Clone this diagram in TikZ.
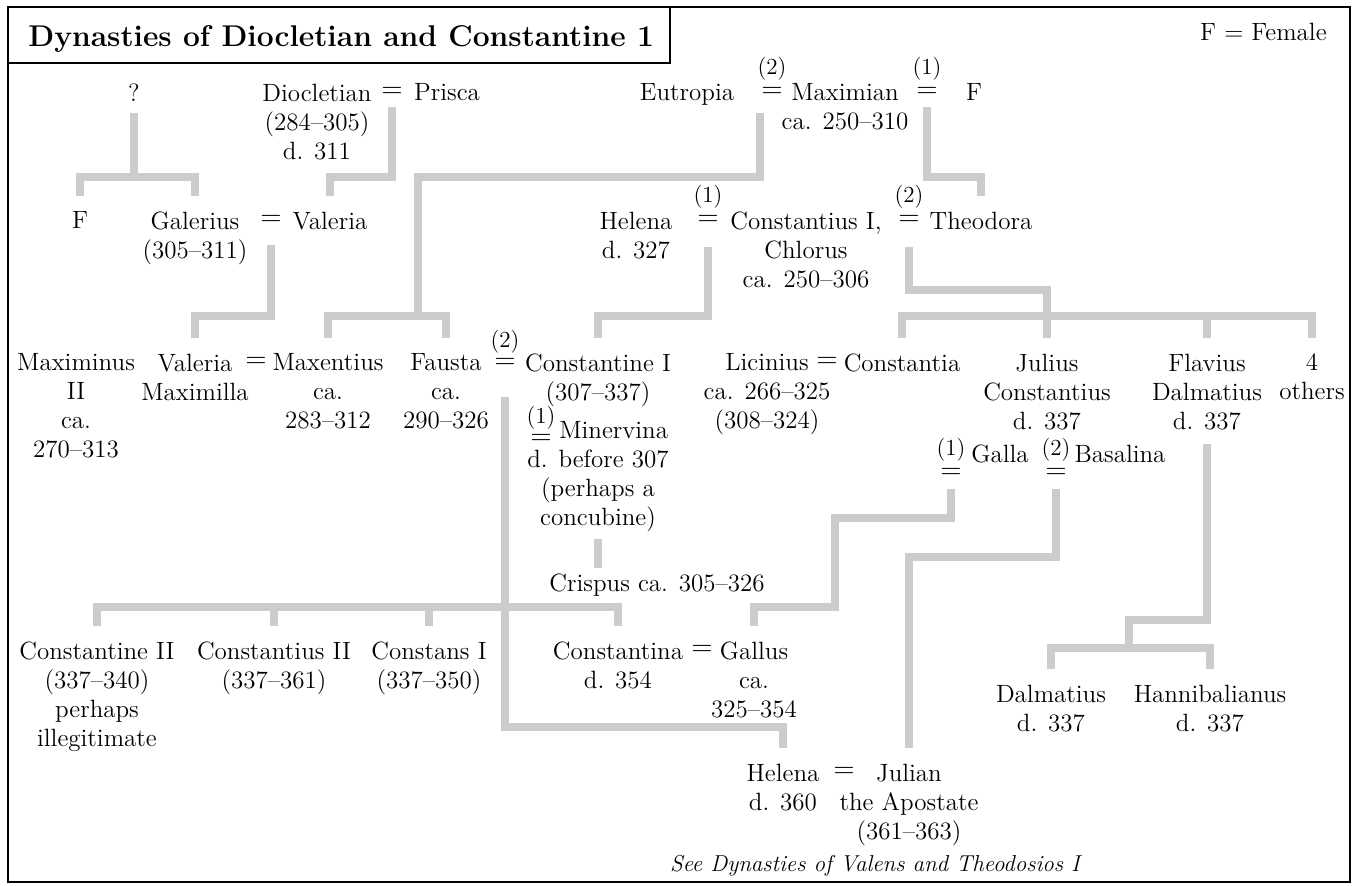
\documentclass[tikz,border=0pt]{standalone}
\usepackage{xcolor}
\usepackage{tikz}

\definecolor{kingray}{gray}{0.8}
\newcommand{\bodyfont}{\fontsize{12.5}{14.5}\selectfont}
\newcommand{\markfont}{\fontsize{11.5}{12}\selectfont}

\begin{document}
\begin{tikzpicture}[
  x=0.5pt, y=-0.5pt,
  person/.style={align=center, inner sep=0pt, anchor=north, font=\bodyfont},
  wed/.style={inner sep=0pt, font=\fontsize{14}{14}\selectfont},
  marno/.style={inner sep=0pt, font=\markfont},
  kin/.style={draw=kingray, line width=3.8pt},
  tochild/.style={shorten >=7.5pt},
  fromtop/.style={shorten <=#1}
]
\useasboundingbox (0,0) rectangle (1357,886);

% frame and title
\draw[line width=0.9pt] (8,7) rectangle (1350,882);
\draw[line width=0.9pt] (8,7) rectangle (670,63);
\node[anchor=base west, inner sep=0pt, font=\fontsize{15}{17}\selectfont\bfseries] (title) at (28,47) {Dynasties of Diocletian and Constantine 1};
\node[anchor=base east, inner sep=0pt, font=\bodyfont] (key) at (1327,41) {F = Female};

% first generation
\node[person] (q) at (134,83.5) {?};
\node[person] (dio) at (317,83.5) {Diocletian\\(284--305)\\d. 311};
\node[wed] (eqDP) at (392,92) {=};
\node[person] (pri) at (447,83.5) {Prisca};
\node[person] (eut) at (687,83.5) {Eutropia};
\node[marno] (m2EM) at (772,69) {(2)};
\node[wed] (eqEM) at (772,92) {=};
\node[person] (max) at (845,83.5) {Maximian\\ca. 250--310};
\node[marno] (m1MF) at (927,69) {(1)};
\node[wed] (eqMF) at (927,92) {=};
\node[person] (fMF) at (974,83.5) {F};

% second generation
\node[person] (fem) at (80,211.5) {F};
\node[person] (gal) at (195,211.5) {Galerius\\(305--311)};
\node[wed] (eqGV) at (271,220) {=};
\node[person] (val) at (330,211.5) {Valeria};
\node[person] (hel) at (636,211.5) {Helena\\d. 327};
\node[marno] (m1HC) at (708,197) {(1)};
\node[wed] (eqHC) at (708,220) {=};
\node[person] (cst) at (806,211.5) {Constantius I,\\Chlorus\\ca. 250--306};
\node[marno] (m2CT) at (909,197) {(2)};
\node[wed] (eqCT) at (909,220) {=};
\node[person] (the) at (981,211.5) {Theodora};

% third generation
\node[person] (mxm) at (76,353.5) {Maximinus\\II\\ca.\\270--313};
\node[person] (vm) at (195,353.5) {Valeria\\Maximilla};
\node[wed] (eqVM) at (256,362) {=};
\node[person] (mxt) at (328,353.5) {Maxentius\\ca.\\283--312};
\node[person] (fau) at (446,353.5) {Fausta\\ca.\\290--326};
\node[marno] (m2FC) at (505,342) {(2)};
\node[wed] (eqFC) at (505,363) {=};
\node[person] (con) at (598,353.5) {Constantine I\\(307--337)};
\node[marno] (m1CM) at (541,418) {(1)};
\node[wed] (eqCM) at (541,439) {=};
\node[person] (min) at (598,421.5) {\hphantom{(1)}Minervina\\d. before 307\\(perhaps a\\concubine)};
\node[person] (cri) at (657,573.5) {Crispus ca. 305--326};
\node[person] (lic) at (767,353.5) {Licinius\\ca. 266--325\\(308--324)};
\node[wed] (eqLC) at (827,362) {=};
\node[person] (cta) at (902,353.5) {Constantia};
\node[person] (jul) at (1047,353.5) {Julius\\Constantius\\d. 337};
\node[person] (fla) at (1207,353.5) {Flavius\\Dalmatius\\d. 337};
\node[person] (oth) at (1312,353.5) {4\\others};
\node[marno] (m1JG) at (951,450) {(1)};
\node[wed] (eqJG) at (951,473) {=};
\node[person] (gla) at (1000,444.5) {Galla};
\node[marno] (m2JB) at (1056,450) {(2)};
\node[wed] (eqJB) at (1056,473) {=};
\node[person] (bas) at (1120,444.5) {Basalina};

% fourth generation
\node[person] (c2) at (97,641.5) {Constantine II\\(337--340)\\perhaps\\illegitimate};
\node[person] (c3) at (274,641.5) {Constantius II\\(337--361)};
\node[person] (c4) at (429,641.5) {Constans I\\(337--350)};
\node[person] (cna) at (618,641.5) {Constantina\\d. 354};
\node[wed] (eqCG) at (702,650) {=};
\node[person] (gls) at (754,641.5) {Gallus\\ca.\\325--354};
\node[person] (dal) at (1051,684.5) {Dalmatius\\d. 337};
\node[person] (han) at (1210,684.5) {Hannibalianus\\d. 337};
\node[person] (hln) at (783,763.5) {Helena\\d. 360};
\node[wed] (eqHJ) at (844,772) {=};
\node[person] (jun) at (909,763.5) {Julian\\the Apostate\\(361--363)};
\node[person, font=\fontsize{11.5}{14}\selectfont\itshape] (see) at (875,855) {See Dynasties of Valens and Theodosios I};

% bar levels and bends
\coordinate (barA) at (0,177);
\coordinate (barCT) at (0,290);
\coordinate (barB) at (0,316);
\coordinate (barJ) at (0,557);
\coordinate (barK) at (0,607);
\coordinate (barD) at (0,648);
\coordinate (barF) at (0,727);
\coordinate (kEM) at (418,177);
\coordinate (kG) at (835,518);
\coordinate (kFD) at (1129,620);

% descent lines
\draw[kin, fromtop=5.5pt] (q.south) -- (q |- barA);
\draw[kin, tochild, shorten <=7.5pt] (fem.north) |- (gal |- barA) -- (gal.north);
\draw[kin, fromtop=5pt, tochild] (eqDP.south) |- (val |- barA) -- (val.north);
\draw[kin, fromtop=8pt] ([xshift=-6pt]eqEM.south) |- (kEM) -- (kEM |- barB);
\draw[kin, tochild, shorten <=7.5pt] (mxt.north) |- (fau |- barB) -- (fau.north);
\draw[kin, fromtop=5pt, tochild] (eqMF.south) |- (the |- barA) -- (the.north);

\draw[kin, fromtop=10pt, tochild] (eqGV.south) |- (vm |- barB) -- (vm.north);
\draw[kin, fromtop=11pt, tochild] (eqHC.south) |- (con |- barB) -- (con.north);
\draw[kin, fromtop=11pt] (eqCT.south) |- (jul |- barCT) -- (jul |- barB);
\draw[kin, tochild, shorten <=7.5pt] (cta.north) |- (oth |- barB) -- (oth.north);
\foreach \k in {jul,fla}
  \draw[kin, tochild] (\k |- barB) -- (\k.north);

\draw[kin, fromtop=14.5pt, tochild] (eqFC.south) |- (hln |- barF) -- (hln.north);
\draw[kin, tochild, shorten <=7.5pt] (c2.north) |- (cna |- barK) -- (cna.north);
\foreach \k in {c3,c4}
  \draw[kin, tochild] (\k |- barK) -- (\k.north);
\draw[kin, fromtop=3pt, shorten >=2.75pt] (min.south) -- (min.south |- cri.north);

\draw[kin, fromtop=5.5pt, tochild] (eqJG.south) |- (kG) |- (gls |- barK) -- (gls.north);
\draw[kin, fromtop=5.5pt, tochild] (eqJB.south) |- (jun |- barJ) -- (jun.north);
\draw[kin, fromtop=7pt] (fla.south) |- (kFD) -- (kFD |- barD);
\draw[kin, tochild, shorten <=7.5pt] (dal.north) |- (han |- barD) -- (han.north);

\end{tikzpicture}
\end{document}
